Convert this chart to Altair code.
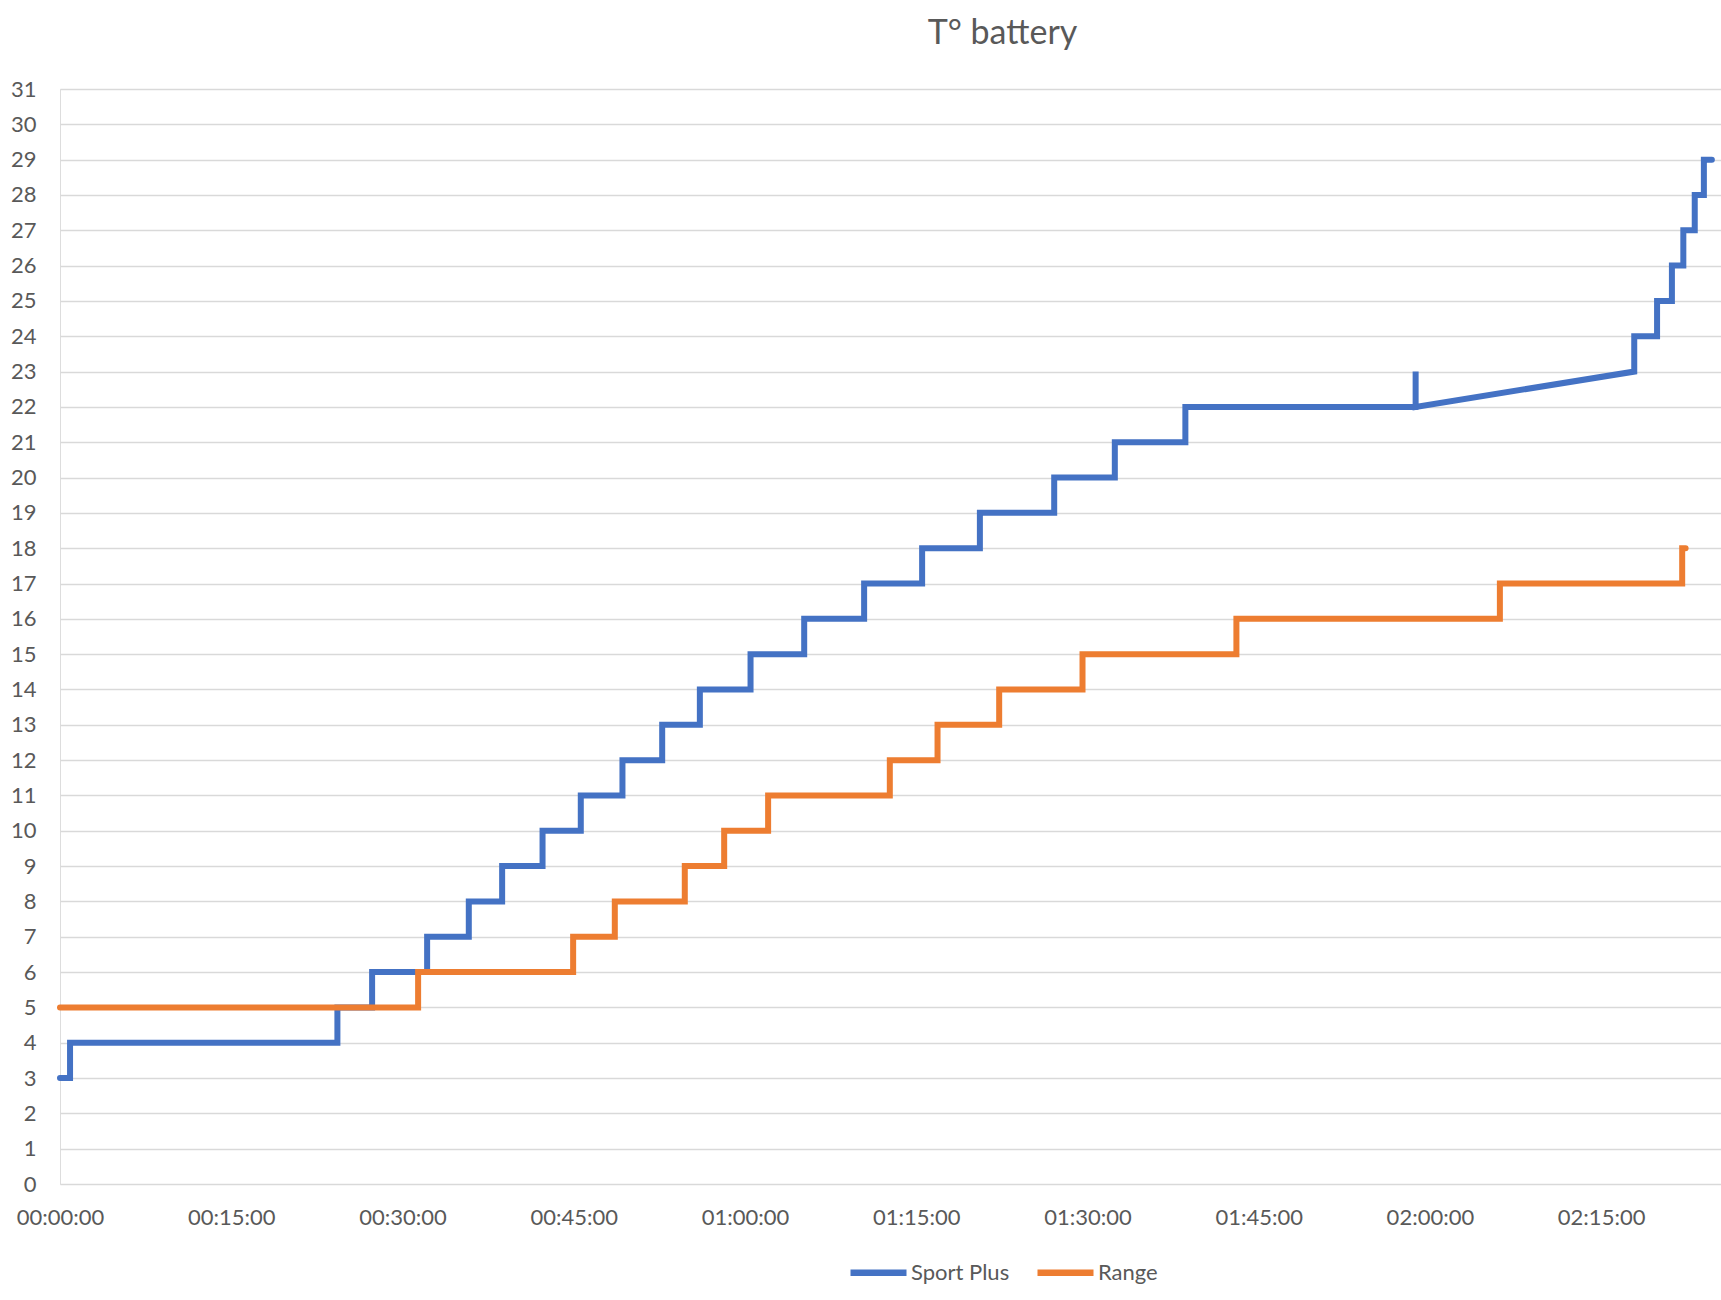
import altair as alt
import pandas as pd

# Elapsed time in minutes, battery temperature (°C)
sport_t = [0, 0.88, 0.88, 24.3, 24.3, 27.34, 27.34, 32.16, 32.16, 35.81, 35.81,
           38.73, 38.73, 42.27, 42.27, 45.62, 45.62, 49.27, 49.27, 52.75, 52.75,
           56.05, 56.05, 60.49, 60.49, 65.19, 65.19, 70.44, 70.44, 75.52, 75.52,
           80.58, 80.58, 87.09, 87.09, 92.4, 92.4, 98.58, 98.58, 118.75, 118.75,
           118.75, 137.9, 137.9, 139.9, 139.9, 141.2, 141.2, 142.2, 142.2, 143.2,
           143.2, 144.0, 144.0, 144.7]
sport_v = [3, 3, 4, 4, 5, 5, 6, 6, 7, 7, 8,
           8, 9, 9, 10, 10, 11, 11, 12, 12, 13,
           13, 14, 14, 15, 15, 16, 16, 17, 17, 18,
           18, 19, 19, 20, 20, 21, 21, 22, 22, 23,
           22, 23, 24, 24, 25, 25, 26, 26, 27, 27,
           28, 28, 29, 29]

range_t = [0, 31.37, 31.37, 44.95, 44.95, 48.6, 48.6, 54.73, 54.73, 58.18, 58.18,
           62.03, 62.03, 72.69, 72.69, 76.87, 76.87, 82.27, 82.27, 89.57, 89.57,
           103.05, 103.05, 126.13, 126.13, 142.1, 142.1, 142.4]
range_v = [5, 5, 6, 6, 7, 7, 8, 8, 9, 9, 10,
           10, 11, 11, 12, 12, 13, 13, 14, 14, 15,
           15, 16, 16, 17, 17, 18, 18]

series_names = ["Sport Plus", "Range"]
series_colors = ["#4472C4", "#ED7D31"]
x_ticks = [0, 15, 30, 45, 60, 75, 90, 105, 120, 135]
y_ticks = list(range(0, 32))

rows = []
for name, ts, vs in [("Sport Plus", sport_t, sport_v), ("Range", range_t, range_v)]:
    for i, (t, v) in enumerate(zip(ts, vs)):
        rows.append({"series": name, "t": t, "v": v, "i": i})
df = pd.DataFrame(rows)

FONT = "Lato"
GREY = "#595959"

label_expr = ("'0' + floor(datum.value/60) + ':' + (datum.value % 60 < 10 ? '0' : '') "
              "+ (datum.value % 60) + ':00'")

chart = alt.Chart(df).mark_line(strokeWidth=6, strokeCap="round").encode(
    x=alt.X("t:Q",
            scale=alt.Scale(domain=[0, 145.5], nice=False, zero=True),
            axis=alt.Axis(title=None, values=x_ticks, labelExpr=label_expr,
                          grid=False, domain=False, ticks=False,
                          labelPadding=23, labelFontSize=22, labelFont=FONT,
                          labelColor=GREY, labelOverlap=False, labelFlush=False)),
    y=alt.Y("v:Q",
            scale=alt.Scale(domain=[0, 31], nice=False),
            axis=alt.Axis(title=None, values=y_ticks, grid=True, gridColor="#d9d9d9",
                          gridWidth=1.5, domain=False, ticks=False, labelPadding=24,
                          labelFontSize=22, labelFont=FONT, labelColor=GREY)),
    color=alt.Color("series:N",
                    scale=alt.Scale(domain=series_names, range=series_colors),
                    legend=alt.Legend(title=None, orient="none", direction="horizontal",
                                      legendX=787, legendY=1152,
                                      symbolType="stroke", symbolSize=3136,
                                      symbolStrokeWidth=6.5, labelFontSize=22,
                                      labelFont=FONT, labelColor=GREY,
                                      labelOffset=1, columnPadding=14)),
    order="i:Q",
).properties(
    width=1661,
    height=1095,
    title=alt.TitleParams("T° battery", fontSize=34, font=FONT, fontWeight="normal",
                          color=GREY, anchor="middle", frame="group", dx=112,
                          dy=33, offset=33, baseline="alphabetic"),
    autosize=alt.AutoSizeParams(type="none"),
    padding={"left": 60, "top": 89, "right": 0, "bottom": 116},
).configure_view(stroke=None, strokeWidth=0).configure_axis(
    domain=False, ticks=False
).configure(background="white")

chart.save("out.html", embed_options={"renderer": "svg", "actions": False})
